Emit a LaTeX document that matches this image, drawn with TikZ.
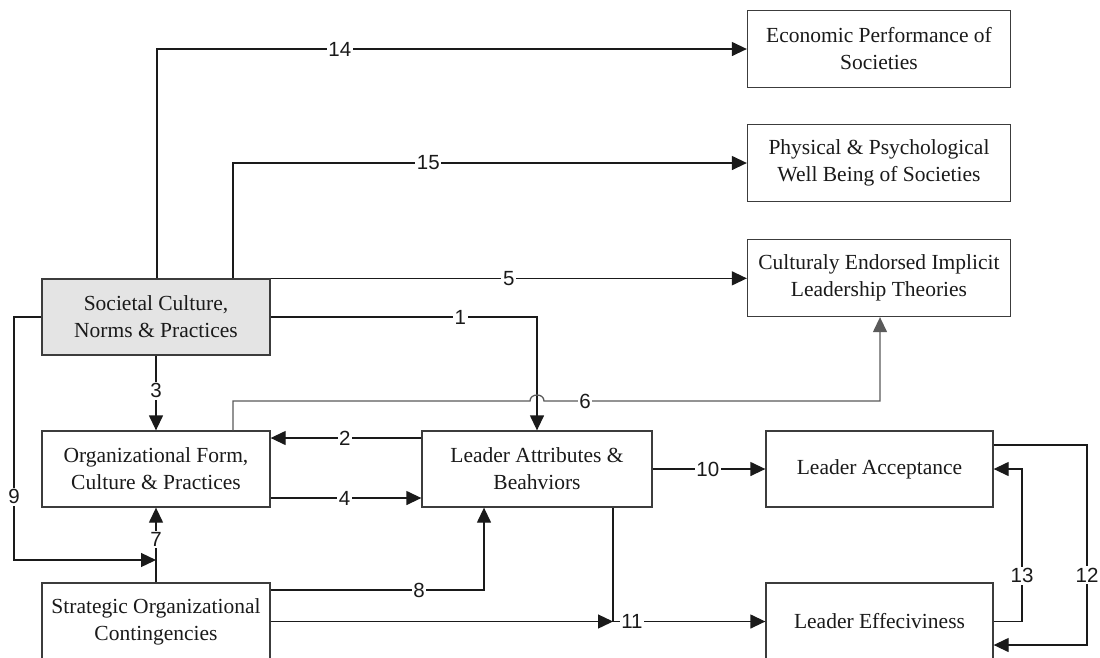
\documentclass[tikz,border=0pt]{standalone}
\usepackage{fontspec}
\setmainfont{Liberation Serif}
\newfontfamily\lblfamily{Liberation Sans}
\usetikzlibrary{arrows.meta}
\definecolor{linec}{HTML}{1A1A1A}
\definecolor{boxc}{HTML}{3C3C3C}
\definecolor{socfill}{HTML}{E4E4E4}
\definecolor{txtc}{HTML}{1A1A1A}
\definecolor{sixc}{HTML}{5A5A5A}
\begin{document}
\begin{tikzpicture}[x=1pt,y=-1pt,
  box/.style={draw=boxc, line width=1.3pt, rectangle, minimum width=228pt, minimum height=76pt,
    align=center, text=txtc, inner sep=2pt, font=\fontsize{21.5}{27}\selectfont},
  wbox/.style={box, minimum width=263pt, minimum height=77pt},
  lbl/.style={fill=white, inner sep=1.6pt, text=linec, font=\lblfamily\fontsize{20.5}{20.5}\selectfont},
  ln/.style={line width=1.3pt, draw=linec},
  tip/.style={-{Triangle[length=15pt,width=14pt]}},
  arr/.style={ln, tip}]
\useasboundingbox (0,0) rectangle (1100,657);
\fill[white] (0,0) rectangle (1100,657);

% boxes
\node[wbox] (eco) at (879,49) {Economic Performance of\\Societies};
\node[wbox] (phys) at (879,163) {Physical \& Psychological\\Well Being of Societies};
\node[wbox] (cult) at (879,278) {Culturaly Endorsed Implicit\\Leadership Theories};
\node[box, fill=socfill] (soc) at (156,317) {Societal Culture,\\Norms \& Practices};
\node[box] (org) at (156,469) {Organizational Form,\\Culture \& Practices};
\node[box, minimum width=230pt] (la) at (537,469) {Leader Attributes \&\\Beahviors};
\node[box, minimum width=227pt] (acc) at (879.5,469) {Leader Acceptance};
\node[box, minimum height=77pt] (strat) at (156,621.5) {Strategic Organizational\\Contingencies};
\node[box, minimum width=227pt, minimum height=77pt] (eff) at (879.5,621.5) {Leader Effeciviness};

% bend points
\coordinate (c14) at (157,49);
\coordinate (c15) at (233,163);
\coordinate (c9a) at (14,317);
\coordinate (c9b) at (14,560);
\coordinate (c9c) at (156,560);
\coordinate (c2) at (0,438);
\coordinate (c4) at (0,498);
\coordinate (c8) at (484,590);
\coordinate (c11) at (613,621.5);
\coordinate (c6a) at (233,401);
\coordinate (h1) at (530,401);
\coordinate (h2) at (544,401);
\coordinate (c6b) at (880,401);
\coordinate (c13a) at (1022,621.5);
\coordinate (c13b) at (1022,469);
\coordinate (c12a) at (1087,445);
\coordinate (c12b) at (1087,645);

% connectors
\draw[arr] (soc.north -| c14) |- node[lbl, pos=0.655] {14} (eco.west);
\draw[arr] (soc.north -| c15) |- node[lbl, pos=0.69] {15} (phys.west);
\draw[arr] (soc.north east) -- node[lbl, pos=0.5] {5} (soc.north east -| cult.west);
\draw[arr] (soc.east) -| node[lbl, pos=0.356] {1} (la.north);
\draw[arr] (soc.south) -- node[lbl, pos=0.47] {3} (org.north);
\draw[ln, draw=sixc, tip] (org.north -| c6a) -- (c6a) -- (h1)
  .. controls (530,393) and (544,393) .. (h2) -- node[lbl, pos=0.122] {6} (c6b) -- (cult.south -| c6b);
\draw[arr] (la.west |- c2) -- node[lbl, pos=0.507] {2} (org.east |- c2);
\draw[arr] (org.east |- c4) -- node[lbl, pos=0.49] {4} (la.west |- c4);
\draw[arr] (soc.west) -- (c9a) -- node[lbl, pos=0.74] {9} (c9b) -- (c9c);
\draw[arr] (strat.north) -- node[lbl, pos=0.57] {7} (org.south);
\draw[arr] (strat.east |- c8) -- node[lbl, pos=0.696] {8} (c8) -- (la.south -| c8);
\draw[arr] (strat.east) -- (c11);
\draw[arr] (la.south -| c11) -- (c11) -- node[lbl, pos=0.124] {11} (eff.west);
\draw[arr] (la.east) -- node[lbl, pos=0.49] {10} (acc.west);
\draw[arr] (eff.east) -- (c13a) -- node[lbl, pos=0.30] {13} (c13b) -- (acc.east);
\draw[arr] (acc.east |- c12a) -- (c12a) -- node[lbl, pos=0.65] {12} (c12b) -- (eff.east |- c12b);
\end{tikzpicture}
\end{document}
